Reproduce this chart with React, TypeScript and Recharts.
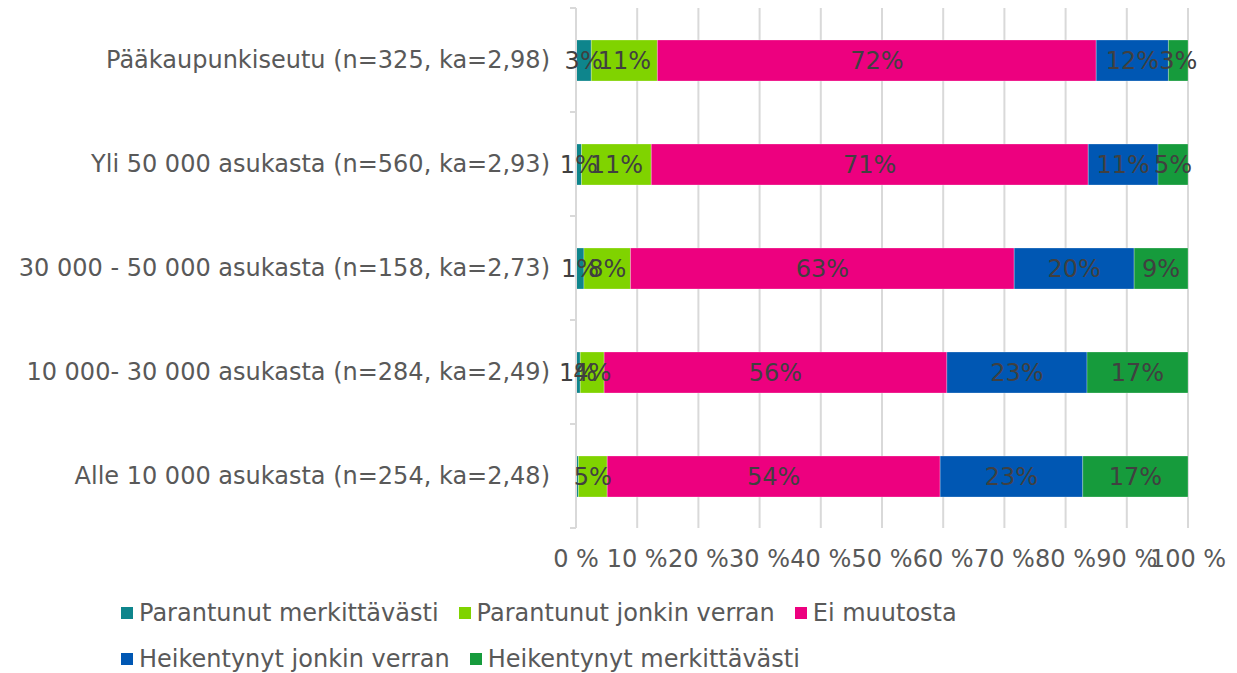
import React from 'react';
import { BarChart, Bar, XAxis, YAxis, CartesianGrid, LabelList } from 'recharts';

// Categories (top to bottom) and share of answers per series, %
const categories = [
  'Pääkaupunkiseutu (n=325, ka=2,98)',
  'Yli 50 000 asukasta (n=560, ka=2,93)',
  '30 000 - 50 000 asukasta (n=158, ka=2,73)',
  '10 000- 30 000 asukasta (n=284, ka=2,49)',
  'Alle 10 000 asukasta (n=254, ka=2,48)',
];
const parantunutMerkittavasti = [2.5, 0.9, 1.3, 0.7, 0.4];
const parantunutJonkin = [10.8, 11.4, 7.6, 3.9, 4.7];
const eiMuutosta = [71.7, 71.4, 62.7, 56.0, 54.4];
const heikentynytJonkin = [11.8, 11.4, 19.6, 22.9, 23.3];
const heikentynytMerkittavasti = [3.2, 4.9, 8.8, 16.5, 17.2];

const xTicks = [0, 10, 20, 30, 40, 50, 60, 70, 80, 90, 100];

const series = [
  { key: 'pm', name: 'Parantunut merkittävästi', values: parantunutMerkittavasti, color: '#0E858C' },
  { key: 'pj', name: 'Parantunut jonkin verran', values: parantunutJonkin, color: '#80D300' },
  { key: 'em', name: 'Ei muutosta', values: eiMuutosta, color: '#ED007F' },
  { key: 'hj', name: 'Heikentynyt jonkin verran', values: heikentynytJonkin, color: '#0057B3' },
  { key: 'hm', name: 'Heikentynyt merkittävästi', values: heikentynytMerkittavasti, color: '#169B3C' },
];

const data = categories.map((name, i) => {
  const row: Record<string, string | number> = { name };
  series.forEach((s) => { row[s.key] = s.values[i]; });
  return row;
});

const FONT = '"DejaVu Sans", Verdana, sans-serif';
const WIDTH = 1237;
const HEIGHT = 673;
const X_AXIS_H = 30;
const MARGIN = { top: 8, right: 49, bottom: 115, left: 0 };
const BAND = (HEIGHT - MARGIN.top - MARGIN.bottom - X_AXIS_H) / categories.length;

function CategoryTick(props: any) {
  const { x, y, payload } = props;
  return (
    <g>
      <text x={x} y={y} textAnchor="end" dominantBaseline="central"
        fill="#595959" fontSize={24} fontFamily={FONT}>
        {payload.value}
      </text>
      <line x1={x + 20} x2={x + 26} y1={y - BAND / 2} y2={y - BAND / 2} stroke="#D9D9D9" strokeWidth={2} />
      <line x1={x + 20} x2={x + 26} y1={y + BAND / 2} y2={y + BAND / 2} stroke="#D9D9D9" strokeWidth={2} />
    </g>
  );
}

function LegendRow({ items }: { items: typeof series }) {
  return (
    <div style={{ display: 'flex', alignItems: 'center', height: 46 }}>
      {items.map((s) => (
        <div key={s.key} style={{ display: 'flex', alignItems: 'center', marginRight: 20 }}>
          <span style={{ width: 12, height: 12, background: s.color, display: 'inline-block', marginRight: 6 }} />
          <span style={{ fontSize: 24, color: '#595959', fontFamily: FONT }}>{s.name}</span>
        </div>
      ))}
    </div>
  );
}

export default function App() {
  return (
    <div style={{ position: 'absolute', left: 0, top: 0, width: WIDTH, height: HEIGHT, background: '#fff' }}>
      <BarChart width={WIDTH} height={HEIGHT} data={data} layout="vertical" margin={MARGIN} barSize={41}>
        <CartesianGrid horizontal={false} stroke="#D9D9D9" strokeWidth={2} />
        <XAxis
          type="number"
          domain={[0, 100]}
          ticks={xTicks}
          interval={0}
          height={X_AXIS_H}
          tickFormatter={(v) => `${v} %`}
          axisLine={false}
          tickLine={false}
          tickMargin={16}
          tick={{ fill: '#595959', fontSize: 24, fontFamily: FONT }}
        />
        <YAxis
          type="category"
          dataKey="name"
          width={576}
          axisLine={{ stroke: '#D9D9D9', strokeWidth: 2 }}
          tickLine={false}
          tickSize={0}
          tickMargin={26}
          interval={0}
          tick={<CategoryTick />}
        />
        {series.map((s) => (
          <Bar key={s.key} dataKey={s.key} name={s.name} stackId="a" fill={s.color}
            stroke="#ffffff" strokeOpacity={0.5} strokeWidth={0.5} isAnimationActive={false}>
            <LabelList
              dataKey={s.key}
              position="center"
              formatter={(v: any) => (Number(v) < 0.5 ? '' : `${Math.round(Number(v))}%`)}
              fill="#404040"
              fontSize={24}
              fontFamily={FONT}
            />
          </Bar>
        ))}
      </BarChart>
      <div style={{ position: 'absolute', left: 121, top: 590 }}>
        <LegendRow items={series.slice(0, 3)} />
        <LegendRow items={series.slice(3)} />
      </div>
    </div>
  );
}
